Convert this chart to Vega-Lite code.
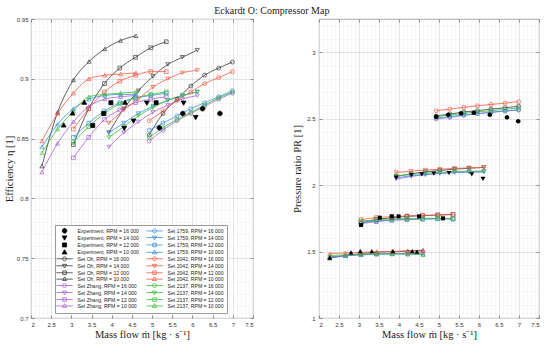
{
"$schema": "https://vega.github.io/schema/vega-lite/v6.json",
"padding": {"left": 3, "top": 5, "right": 0, "bottom": 0},
"title": {"text": "Eckardt O: Compressor Map", "font": "Liberation Serif", "fontSize": 10, "fontWeight": "normal", "color": "#222", "anchor": "middle", "offset": 0},
"spacing": 38,
"resolve": {"legend": {"stroke": "independent", "shape": "independent", "fill": "independent"}},
"datasets": {
"sim": [
{"s":"Set Oh, RPM = 10 000","m":2.27,"e":0.827,"p":1.45},{"s":"Set Oh, RPM = 10 000","m":2.66,"e":0.872,"p":1.47},{"s":"Set Oh, RPM = 10 000","m":3.05,"e":0.899,"p":1.485},{"s":"Set Oh, RPM = 10 000","m":3.44,"e":0.9145,"p":1.495},{"s":"Set Oh, RPM = 10 000","m":3.83,"e":0.925,"p":1.5},{"s":"Set Oh, RPM = 10 000","m":4.22,"e":0.932,"p":1.505},{"s":"Set Oh, RPM = 10 000","m":4.6,"e":0.936,"p":1.51},
{"s":"Set Oh, RPM = 12 000","m":3.05,"e":0.845,"p":1.715},{"s":"Set Oh, RPM = 12 000","m":3.43,"e":0.875,"p":1.74},{"s":"Set Oh, RPM = 12 000","m":3.82,"e":0.896,"p":1.755},{"s":"Set Oh, RPM = 12 000","m":4.2,"e":0.909,"p":1.765},{"s":"Set Oh, RPM = 12 000","m":4.59,"e":0.918,"p":1.77},{"s":"Set Oh, RPM = 12 000","m":4.97,"e":0.926,"p":1.775},{"s":"Set Oh, RPM = 12 000","m":5.35,"e":0.931,"p":1.78},
{"s":"Set Oh, RPM = 14 000","m":3.93,"e":0.855,"p":2.065},{"s":"Set Oh, RPM = 14 000","m":4.3,"e":0.875,"p":2.085},{"s":"Set Oh, RPM = 14 000","m":4.66,"e":0.89,"p":2.1},{"s":"Set Oh, RPM = 14 000","m":5.02,"e":0.902,"p":2.11},{"s":"Set Oh, RPM = 14 000","m":5.39,"e":0.912,"p":2.12},{"s":"Set Oh, RPM = 14 000","m":5.75,"e":0.918,"p":2.127},{"s":"Set Oh, RPM = 14 000","m":6.12,"e":0.924,"p":2.133},
{"s":"Set Oh, RPM = 16 000","m":4.93,"e":0.853,"p":2.52},{"s":"Set Oh, RPM = 16 000","m":5.27,"e":0.871,"p":2.535},{"s":"Set Oh, RPM = 16 000","m":5.62,"e":0.883,"p":2.55},{"s":"Set Oh, RPM = 16 000","m":5.96,"e":0.894,"p":2.56},{"s":"Set Oh, RPM = 16 000","m":6.3,"e":0.903,"p":2.572},{"s":"Set Oh, RPM = 16 000","m":6.65,"e":0.909,"p":2.582},{"s":"Set Oh, RPM = 16 000","m":6.99,"e":0.914,"p":2.593},
{"s":"Set Zhang, RPM = 10 000","m":2.27,"e":0.822,"p":1.46},{"s":"Set Zhang, RPM = 10 000","m":2.66,"e":0.846,"p":1.468},{"s":"Set Zhang, RPM = 10 000","m":3.05,"e":0.864,"p":1.476},{"s":"Set Zhang, RPM = 10 000","m":3.44,"e":0.877,"p":1.482},{"s":"Set Zhang, RPM = 10 000","m":3.83,"e":0.883,"p":1.486},{"s":"Set Zhang, RPM = 10 000","m":4.22,"e":0.885,"p":1.488},{"s":"Set Zhang, RPM = 10 000","m":4.6,"e":0.886,"p":1.49},
{"s":"Set Zhang, RPM = 12 000","m":3.05,"e":0.834,"p":1.71},{"s":"Set Zhang, RPM = 12 000","m":3.43,"e":0.851,"p":1.725},{"s":"Set Zhang, RPM = 12 000","m":3.82,"e":0.866,"p":1.735},{"s":"Set Zhang, RPM = 12 000","m":4.2,"e":0.874,"p":1.74},{"s":"Set Zhang, RPM = 12 000","m":4.59,"e":0.88,"p":1.745},{"s":"Set Zhang, RPM = 12 000","m":4.97,"e":0.883,"p":1.748},{"s":"Set Zhang, RPM = 12 000","m":5.35,"e":0.885,"p":1.75},
{"s":"Set Zhang, RPM = 14 000","m":3.93,"e":0.843,"p":2.045},{"s":"Set Zhang, RPM = 14 000","m":4.3,"e":0.855,"p":2.065},{"s":"Set Zhang, RPM = 14 000","m":4.66,"e":0.864,"p":2.078},{"s":"Set Zhang, RPM = 14 000","m":5.02,"e":0.872,"p":2.088},{"s":"Set Zhang, RPM = 14 000","m":5.39,"e":0.878,"p":2.095},{"s":"Set Zhang, RPM = 14 000","m":5.75,"e":0.883,"p":2.1},{"s":"Set Zhang, RPM = 14 000","m":6.12,"e":0.886,"p":2.1},
{"s":"Set Zhang, RPM = 16 000","m":4.93,"e":0.848,"p":2.497},{"s":"Set Zhang, RPM = 16 000","m":5.27,"e":0.857,"p":2.51},{"s":"Set Zhang, RPM = 16 000","m":5.62,"e":0.865,"p":2.525},{"s":"Set Zhang, RPM = 16 000","m":5.96,"e":0.871,"p":2.537},{"s":"Set Zhang, RPM = 16 000","m":6.3,"e":0.877,"p":2.548},{"s":"Set Zhang, RPM = 16 000","m":6.65,"e":0.883,"p":2.557},{"s":"Set Zhang, RPM = 16 000","m":6.99,"e":0.888,"p":2.565},
{"s":"Set 1759, RPM = 10 000","m":2.27,"e":0.843,"p":1.46},{"s":"Set 1759, RPM = 10 000","m":2.66,"e":0.862,"p":1.468},{"s":"Set 1759, RPM = 10 000","m":3.05,"e":0.875,"p":1.475},{"s":"Set 1759, RPM = 10 000","m":3.44,"e":0.883,"p":1.48},{"s":"Set 1759, RPM = 10 000","m":3.83,"e":0.886,"p":1.482},{"s":"Set 1759, RPM = 10 000","m":4.22,"e":0.887,"p":1.482},{"s":"Set 1759, RPM = 10 000","m":4.6,"e":0.887,"p":1.48},
{"s":"Set 1759, RPM = 12 000","m":3.05,"e":0.851,"p":1.72},{"s":"Set 1759, RPM = 12 000","m":3.43,"e":0.863,"p":1.73},{"s":"Set 1759, RPM = 12 000","m":3.82,"e":0.873,"p":1.738},{"s":"Set 1759, RPM = 12 000","m":4.2,"e":0.88,"p":1.742},{"s":"Set 1759, RPM = 12 000","m":4.59,"e":0.884,"p":1.745},{"s":"Set 1759, RPM = 12 000","m":4.97,"e":0.886,"p":1.746},{"s":"Set 1759, RPM = 12 000","m":5.35,"e":0.888,"p":1.745},
{"s":"Set 1759, RPM = 14 000","m":3.93,"e":0.855,"p":2.055},{"s":"Set 1759, RPM = 14 000","m":4.3,"e":0.863,"p":2.07},{"s":"Set 1759, RPM = 14 000","m":4.66,"e":0.871,"p":2.08},{"s":"Set 1759, RPM = 14 000","m":5.02,"e":0.877,"p":2.088},{"s":"Set 1759, RPM = 14 000","m":5.39,"e":0.882,"p":2.095},{"s":"Set 1759, RPM = 14 000","m":5.75,"e":0.886,"p":2.098},{"s":"Set 1759, RPM = 14 000","m":6.12,"e":0.889,"p":2.1},
{"s":"Set 1759, RPM = 16 000","m":4.93,"e":0.857,"p":2.505},{"s":"Set 1759, RPM = 16 000","m":5.27,"e":0.863,"p":2.515},{"s":"Set 1759, RPM = 16 000","m":5.62,"e":0.869,"p":2.528},{"s":"Set 1759, RPM = 16 000","m":5.96,"e":0.875,"p":2.538},{"s":"Set 1759, RPM = 16 000","m":6.3,"e":0.88,"p":2.548},{"s":"Set 1759, RPM = 16 000","m":6.65,"e":0.885,"p":2.558},{"s":"Set 1759, RPM = 16 000","m":6.99,"e":0.89,"p":2.567},
{"s":"Set 2042, RPM = 10 000","m":2.27,"e":0.848,"p":1.485},{"s":"Set 2042, RPM = 10 000","m":2.66,"e":0.871,"p":1.49},{"s":"Set 2042, RPM = 10 000","m":3.05,"e":0.888,"p":1.495},{"s":"Set 2042, RPM = 10 000","m":3.44,"e":0.9,"p":1.498},{"s":"Set 2042, RPM = 10 000","m":3.83,"e":0.903,"p":1.5},{"s":"Set 2042, RPM = 10 000","m":4.22,"e":0.904,"p":1.502},{"s":"Set 2042, RPM = 10 000","m":4.6,"e":0.905,"p":1.503},
{"s":"Set 2042, RPM = 12 000","m":3.05,"e":0.858,"p":1.74},{"s":"Set 2042, RPM = 12 000","m":3.43,"e":0.875,"p":1.755},{"s":"Set 2042, RPM = 12 000","m":3.82,"e":0.889,"p":1.762},{"s":"Set 2042, RPM = 12 000","m":4.2,"e":0.898,"p":1.768},{"s":"Set 2042, RPM = 12 000","m":4.59,"e":0.903,"p":1.772},{"s":"Set 2042, RPM = 12 000","m":4.97,"e":0.906,"p":1.775},{"s":"Set 2042, RPM = 12 000","m":5.35,"e":0.906,"p":1.778},
{"s":"Set 2042, RPM = 14 000","m":3.93,"e":0.863,"p":2.095},{"s":"Set 2042, RPM = 14 000","m":4.3,"e":0.874,"p":2.105},{"s":"Set 2042, RPM = 14 000","m":4.66,"e":0.883,"p":2.113},{"s":"Set 2042, RPM = 14 000","m":5.02,"e":0.893,"p":2.12},{"s":"Set 2042, RPM = 14 000","m":5.39,"e":0.9,"p":2.126},{"s":"Set 2042, RPM = 14 000","m":5.75,"e":0.905,"p":2.13},{"s":"Set 2042, RPM = 14 000","m":6.12,"e":0.907,"p":2.133},
{"s":"Set 2042, RPM = 16 000","m":4.93,"e":0.865,"p":2.56},{"s":"Set 2042, RPM = 16 000","m":5.27,"e":0.873,"p":2.572},{"s":"Set 2042, RPM = 16 000","m":5.62,"e":0.882,"p":2.585},{"s":"Set 2042, RPM = 16 000","m":5.96,"e":0.889,"p":2.597},{"s":"Set 2042, RPM = 16 000","m":6.3,"e":0.896,"p":2.607},{"s":"Set 2042, RPM = 16 000","m":6.65,"e":0.901,"p":2.617},{"s":"Set 2042, RPM = 16 000","m":6.99,"e":0.906,"p":2.628},
{"s":"Set 2137, RPM = 10 000","m":2.27,"e":0.838,"p":1.47},{"s":"Set 2137, RPM = 10 000","m":2.66,"e":0.858,"p":1.475},{"s":"Set 2137, RPM = 10 000","m":3.05,"e":0.873,"p":1.48},{"s":"Set 2137, RPM = 10 000","m":3.44,"e":0.885,"p":1.482},{"s":"Set 2137, RPM = 10 000","m":3.83,"e":0.887,"p":1.482},{"s":"Set 2137, RPM = 10 000","m":4.22,"e":0.888,"p":1.48},{"s":"Set 2137, RPM = 10 000","m":4.6,"e":0.889,"p":1.476},
{"s":"Set 2137, RPM = 12 000","m":3.05,"e":0.847,"p":1.73},{"s":"Set 2137, RPM = 12 000","m":3.43,"e":0.86,"p":1.738},{"s":"Set 2137, RPM = 12 000","m":3.82,"e":0.871,"p":1.745},{"s":"Set 2137, RPM = 12 000","m":4.2,"e":0.879,"p":1.748},{"s":"Set 2137, RPM = 12 000","m":4.59,"e":0.884,"p":1.75},{"s":"Set 2137, RPM = 12 000","m":4.97,"e":0.887,"p":1.75},{"s":"Set 2137, RPM = 12 000","m":5.35,"e":0.889,"p":1.745},
{"s":"Set 2137, RPM = 14 000","m":3.93,"e":0.851,"p":2.07},{"s":"Set 2137, RPM = 14 000","m":4.3,"e":0.86,"p":2.08},{"s":"Set 2137, RPM = 14 000","m":4.66,"e":0.869,"p":2.09},{"s":"Set 2137, RPM = 14 000","m":5.02,"e":0.876,"p":2.097},{"s":"Set 2137, RPM = 14 000","m":5.39,"e":0.882,"p":2.102},{"s":"Set 2137, RPM = 14 000","m":5.75,"e":0.886,"p":2.105},{"s":"Set 2137, RPM = 14 000","m":6.12,"e":0.889,"p":2.105},
{"s":"Set 2137, RPM = 16 000","m":4.93,"e":0.851,"p":2.515},{"s":"Set 2137, RPM = 16 000","m":5.27,"e":0.859,"p":2.527},{"s":"Set 2137, RPM = 16 000","m":5.62,"e":0.866,"p":2.54},{"s":"Set 2137, RPM = 16 000","m":5.96,"e":0.872,"p":2.55},{"s":"Set 2137, RPM = 16 000","m":6.3,"e":0.878,"p":2.56},{"s":"Set 2137, RPM = 16 000","m":6.65,"e":0.884,"p":2.57},{"s":"Set 2137, RPM = 16 000","m":6.99,"e":0.889,"p":2.58}
],
"expE": [
{"s":"Experiment, RPM = 16 000","m":5.18,"e":0.859},{"s":"Experiment, RPM = 16 000","m":5.76,"e":0.871},{"s":"Experiment, RPM = 16 000","m":6.25,"e":0.875},{"s":"Experiment, RPM = 16 000","m":6.68,"e":0.871},
{"s":"Experiment, RPM = 14 000","m":4.31,"e":0.859},{"s":"Experiment, RPM = 14 000","m":4.54,"e":0.865},{"s":"Experiment, RPM = 14 000","m":4.87,"e":0.88},{"s":"Experiment, RPM = 14 000","m":5.78,"e":0.88},{"s":"Experiment, RPM = 14 000","m":6.08,"e":0.868},
{"s":"Experiment, RPM = 12 000","m":3.53,"e":0.861},{"s":"Experiment, RPM = 12 000","m":3.8,"e":0.871},{"s":"Experiment, RPM = 12 000","m":3.98,"e":0.88},{"s":"Experiment, RPM = 12 000","m":5.1,"e":0.88},
{"s":"Experiment, RPM = 10 000","m":2.81,"e":0.861},{"s":"Experiment, RPM = 10 000","m":3.03,"e":0.871},{"s":"Experiment, RPM = 10 000","m":3.32,"e":0.88},{"s":"Experiment, RPM = 10 000","m":4.33,"e":0.88}
],
"expP": [
{"s":"Experiment, RPM = 16 000","m":4.93,"p":2.515},{"s":"Experiment, RPM = 16 000","m":5.23,"p":2.53},{"s":"Experiment, RPM = 16 000","m":5.55,"p":2.54},{"s":"Experiment, RPM = 16 000","m":5.87,"p":2.545},{"s":"Experiment, RPM = 16 000","m":6.27,"p":2.53},{"s":"Experiment, RPM = 16 000","m":6.7,"p":2.51},{"s":"Experiment, RPM = 16 000","m":6.98,"p":2.48},
{"s":"Experiment, RPM = 14 000","m":3.93,"p":2.06},{"s":"Experiment, RPM = 14 000","m":4.31,"p":2.08},{"s":"Experiment, RPM = 14 000","m":4.57,"p":2.085},{"s":"Experiment, RPM = 14 000","m":4.87,"p":2.09},{"s":"Experiment, RPM = 14 000","m":5.25,"p":2.095},{"s":"Experiment, RPM = 14 000","m":5.82,"p":2.085},{"s":"Experiment, RPM = 14 000","m":6.1,"p":2.05},
{"s":"Experiment, RPM = 12 000","m":3.05,"p":1.7},{"s":"Experiment, RPM = 12 000","m":3.52,"p":1.755},{"s":"Experiment, RPM = 12 000","m":3.82,"p":1.765},{"s":"Experiment, RPM = 12 000","m":3.99,"p":1.765},{"s":"Experiment, RPM = 12 000","m":4.5,"p":1.765},{"s":"Experiment, RPM = 12 000","m":5.1,"p":1.75},
{"s":"Experiment, RPM = 10 000","m":2.27,"p":1.45},{"s":"Experiment, RPM = 10 000","m":2.8,"p":1.49},{"s":"Experiment, RPM = 10 000","m":3.03,"p":1.5},{"s":"Experiment, RPM = 10 000","m":3.32,"p":1.5},{"s":"Experiment, RPM = 10 000","m":3.85,"p":1.5},{"s":"Experiment, RPM = 10 000","m":4.33,"p":1.5},{"s":"Experiment, RPM = 10 000","m":4.45,"p":1.495}
]
},
"hconcat": [
{
"width": 222, "height": 299,
"layer": [
{"data": {"name": "sim"}, "mark": {"type": "line", "strokeWidth": 0.8, "interpolate": "monotone"},
 "encoding": {
  "x": {"field": "m", "type": "quantitative", "scale": {"domain": [2, 7.5], "nice": false},
        "axis": {"orient": "top", "values": [2,2.1,2.2,2.3,2.4,2.5,2.6,2.7,2.8,2.9,3,3.1,3.2,3.3,3.4,3.5,3.6,3.7,3.8,3.9,4,4.1,4.2,4.3,4.4,4.5,4.6,4.7,4.8,4.9,5,5.1,5.2,5.3,5.4,5.5,5.6,5.7,5.8,5.9,6,6.1,6.2,6.3,6.4,6.5,6.6,6.7,6.8,6.9,7,7.1,7.2,7.3,7.4,7.5], "labels": false, "ticks": true, "tickSize": -3, "tickColor": "#555", "tickWidth": 0.6, "tickOpacity": {"condition": {"test": "abs(datum.value*2 - round(datum.value*2)) < 0.01", "value": 1}, "value": 0}, "domain": false, "grid": true, "gridColor": "#efefef", "title": null}},
  "y": {"field": "e", "type": "quantitative", "scale": {"domain": [0.7, 0.95], "nice": false, "zero": false},
        "axis": {"orient": "right", "values": [0.7,0.71,0.72,0.73,0.74,0.75,0.76,0.77,0.78,0.79,0.8,0.81,0.82,0.83,0.84,0.85,0.86,0.87,0.88,0.89,0.9,0.91,0.92,0.93,0.94,0.95], "labels": false, "ticks": true, "tickSize": -3, "tickColor": "#555", "tickWidth": 0.6, "tickOpacity": {"condition": {"test": "abs(datum.value*20 - round(datum.value*20)) < 0.01", "value": 1}, "value": 0}, "domain": false, "grid": true, "gridColor": "#efefef", "title": null}},
  "color": {"field": "s", "type": "nominal", "legend": null,
   "scale": {"range": ["#3d8fde","#3d8fde","#3d8fde","#3d8fde","#f05a45","#f05a45","#f05a45","#f05a45","#38c038","#38c038","#38c038","#38c038","#3a3a3a","#3a3a3a","#3a3a3a","#3a3a3a","#a862d0","#a862d0","#a862d0","#a862d0"]}}
 }},
{"data": {"name": "sim"}, "transform": [{"filter": "indexof(datum.s,'16 000')>=0"}],
 "mark": {"type": "point", "shape": "circle", "filled": false, "size": 16, "strokeWidth": 0.7, "opacity": 1},
 "encoding": {
  "x": {"field": "m", "type": "quantitative", "axis": {"orient": "bottom", "values": [2,2.5,3,3.5,4,4.5,5,5.5,6,6.5,7,7.5], "format": ".1~f", "grid": true, "ticks": true, "tickSize": -3, "tickColor": "#555", "tickWidth": 0.6, "title": "Mass flow ṁ [kg · s⁻¹]", "labelPadding": 6, "titlePadding": 2}},
  "y": {"field": "e", "type": "quantitative", "axis": {"orient": "left", "values": [0.7,0.75,0.8,0.85,0.9,0.95], "format": ".2~f", "grid": true, "ticks": true, "tickSize": -3, "tickColor": "#555", "tickWidth": 0.6, "title": "Efficiency η [1]", "labelPadding": 6, "titlePadding": 2}},
  "color": {"field": "s", "type": "nominal", "legend": null}
 }},
{"data": {"name": "sim"}, "transform": [{"filter": "indexof(datum.s,'14 000')>=0"}],
 "mark": {"type": "point", "shape": "triangle-down", "filled": false, "size": 16, "strokeWidth": 0.7, "opacity": 1},
 "encoding": {
  "x": {"field": "m", "type": "quantitative", "axis": null},
  "y": {"field": "e", "type": "quantitative", "axis": null},
  "color": {"field": "s", "type": "nominal", "legend": null}
 }},
{"data": {"name": "sim"}, "transform": [{"filter": "indexof(datum.s,'12 000')>=0"}],
 "mark": {"type": "point", "shape": "square", "filled": false, "size": 14, "strokeWidth": 0.7, "opacity": 1},
 "encoding": {
  "x": {"field": "m", "type": "quantitative", "axis": null},
  "y": {"field": "e", "type": "quantitative", "axis": null},
  "color": {"field": "s", "type": "nominal", "legend": null}
 }},
{"data": {"name": "sim"}, "transform": [{"filter": "indexof(datum.s,'10 000')>=0"}],
 "mark": {"type": "point", "shape": "triangle-up", "filled": false, "size": 16, "strokeWidth": 0.7, "opacity": 1},
 "encoding": {
  "x": {"field": "m", "type": "quantitative", "axis": null},
  "y": {"field": "e", "type": "quantitative", "axis": null},
  "color": {"field": "s", "type": "nominal", "legend": null}
 }},
{"data": {"name": "expE"}, "mark": {"type": "point", "size": 16, "strokeWidth": 0.8, "opacity": 1},
 "encoding": {
  "x": {"field": "m", "type": "quantitative", "axis": null},
  "y": {"field": "e", "type": "quantitative", "axis": null},
  "stroke": {"field": "s", "type": "nominal",
   "legend": {"orient": "none", "legendX": 24, "legendY": 206, "columns": 2, "title": null, "fillColor": "white", "strokeColor": "#9a9a9a", "padding": 3, "labelFontSize": 5.1, "labelColor": "#222", "symbolSize": 16, "symbolStrokeWidth": 0.8, "symbolOpacity": 1, "symbolOffset": 4, "labelOffset": 10.5, "rowPadding": -1.6, "columnPadding": 5},
   "scale": {"domain": ["Experiment, RPM = 16 000","Experiment, RPM = 14 000","Experiment, RPM = 12 000","Experiment, RPM = 10 000","Set Oh, RPM = 16 000","Set Oh, RPM = 14 000","Set Oh, RPM = 12 000","Set Oh, RPM = 10 000","Set Zhang, RPM = 16 000","Set Zhang, RPM = 14 000","Set Zhang, RPM = 12 000","Set Zhang, RPM = 10 000","Set 1759, RPM = 16 000","Set 1759, RPM = 14 000","Set 1759, RPM = 12 000","Set 1759, RPM = 10 000","Set 2042, RPM = 16 000","Set 2042, RPM = 14 000","Set 2042, RPM = 12 000","Set 2042, RPM = 10 000","Set 2137, RPM = 16 000","Set 2137, RPM = 14 000","Set 2137, RPM = 12 000","Set 2137, RPM = 10 000"],
             "range": ["#000000","#000000","#000000","#000000","#3a3a3a","#3a3a3a","#3a3a3a","#3a3a3a","#a862d0","#a862d0","#a862d0","#a862d0","#3d8fde","#3d8fde","#3d8fde","#3d8fde","#f05a45","#f05a45","#f05a45","#f05a45","#38c038","#38c038","#38c038","#38c038"]}},
  "fill": {"field": "s", "type": "nominal",
   "legend": {"orient": "none", "legendX": 24, "legendY": 206, "columns": 2, "title": null, "fillColor": "white", "strokeColor": "#9a9a9a", "padding": 3, "labelFontSize": 5.1, "labelColor": "#222", "symbolSize": 16, "symbolStrokeWidth": 0.8, "symbolOpacity": 1, "symbolOffset": 4, "labelOffset": 10.5, "rowPadding": -1.6, "columnPadding": 5},
   "scale": {"domain": ["Experiment, RPM = 16 000","Experiment, RPM = 14 000","Experiment, RPM = 12 000","Experiment, RPM = 10 000","Set Oh, RPM = 16 000","Set Oh, RPM = 14 000","Set Oh, RPM = 12 000","Set Oh, RPM = 10 000","Set Zhang, RPM = 16 000","Set Zhang, RPM = 14 000","Set Zhang, RPM = 12 000","Set Zhang, RPM = 10 000","Set 1759, RPM = 16 000","Set 1759, RPM = 14 000","Set 1759, RPM = 12 000","Set 1759, RPM = 10 000","Set 2042, RPM = 16 000","Set 2042, RPM = 14 000","Set 2042, RPM = 12 000","Set 2042, RPM = 10 000","Set 2137, RPM = 16 000","Set 2137, RPM = 14 000","Set 2137, RPM = 12 000","Set 2137, RPM = 10 000"],
             "range": ["black","black","black","black","transparent","transparent","transparent","transparent","transparent","transparent","transparent","transparent","transparent","transparent","transparent","transparent","transparent","transparent","transparent","transparent","transparent","transparent","transparent","transparent"]}},
  "shape": {"field": "s", "type": "nominal",
   "legend": {"orient": "none", "legendX": 24, "legendY": 206, "columns": 2, "title": null, "fillColor": "white", "strokeColor": "#9a9a9a", "padding": 3, "labelFontSize": 5.1, "labelColor": "#222", "symbolSize": 16, "symbolStrokeWidth": 0.8, "symbolOpacity": 1, "symbolOffset": 4, "labelOffset": 10.5, "rowPadding": -1.6, "columnPadding": 5},
   "scale": {"domain": ["Experiment, RPM = 16 000","Experiment, RPM = 14 000","Experiment, RPM = 12 000","Experiment, RPM = 10 000","Set Oh, RPM = 16 000","Set Oh, RPM = 14 000","Set Oh, RPM = 12 000","Set Oh, RPM = 10 000","Set Zhang, RPM = 16 000","Set Zhang, RPM = 14 000","Set Zhang, RPM = 12 000","Set Zhang, RPM = 10 000","Set 1759, RPM = 16 000","Set 1759, RPM = 14 000","Set 1759, RPM = 12 000","Set 1759, RPM = 10 000","Set 2042, RPM = 16 000","Set 2042, RPM = 14 000","Set 2042, RPM = 12 000","Set 2042, RPM = 10 000","Set 2137, RPM = 16 000","Set 2137, RPM = 14 000","Set 2137, RPM = 12 000","Set 2137, RPM = 10 000"],
             "range": ["M1.15,0A1.15,1.15,0,1,1,-1.15,0A1.15,1.15,0,1,1,1.15,0Z","M0,1.3L1.2,-0.8L-1.2,-0.8Z","M-1,-1H1V1H-1Z","M0,-1.3L1.2,0.8L-1.2,0.8Z",
                       "M-4.1,0H4.1M1,0A1,1,0,1,1,-1,0A1,1,0,1,1,1,0Z","M-4.1,0H4.1M0,1.15L1.05,-0.7L-1.05,-0.7Z","M-4.1,0H4.1M-0.9,-0.9H0.9V0.9H-0.9Z","M-4.1,0H4.1M0,-1.15L1.05,0.7L-1.05,0.7Z",
                       "M-4.1,0H4.1M1,0A1,1,0,1,1,-1,0A1,1,0,1,1,1,0Z","M-4.1,0H4.1M0,1.15L1.05,-0.7L-1.05,-0.7Z","M-4.1,0H4.1M-0.9,-0.9H0.9V0.9H-0.9Z","M-4.1,0H4.1M0,-1.15L1.05,0.7L-1.05,0.7Z",
                       "M-4.1,0H4.1M1,0A1,1,0,1,1,-1,0A1,1,0,1,1,1,0Z","M-4.1,0H4.1M0,1.15L1.05,-0.7L-1.05,-0.7Z","M-4.1,0H4.1M-0.9,-0.9H0.9V0.9H-0.9Z","M-4.1,0H4.1M0,-1.15L1.05,0.7L-1.05,0.7Z",
                       "M-4.1,0H4.1M1,0A1,1,0,1,1,-1,0A1,1,0,1,1,1,0Z","M-4.1,0H4.1M0,1.15L1.05,-0.7L-1.05,-0.7Z","M-4.1,0H4.1M-0.9,-0.9H0.9V0.9H-0.9Z","M-4.1,0H4.1M0,-1.15L1.05,0.7L-1.05,0.7Z",
                       "M-4.1,0H4.1M1,0A1,1,0,1,1,-1,0A1,1,0,1,1,1,0Z","M-4.1,0H4.1M0,1.15L1.05,-0.7L-1.05,-0.7Z","M-4.1,0H4.1M-0.9,-0.9H0.9V0.9H-0.9Z","M-4.1,0H4.1M0,-1.15L1.05,0.7L-1.05,0.7Z"]}}
 }}
]
},
{
"width": 220, "height": 299,
"layer": [
{"data": {"name": "sim"}, "mark": {"type": "line", "strokeWidth": 0.8, "interpolate": "monotone"},
 "encoding": {
  "x": {"field": "m", "type": "quantitative", "scale": {"domain": [2, 7.5], "nice": false},
        "axis": {"orient": "top", "values": [2,2.1,2.2,2.3,2.4,2.5,2.6,2.7,2.8,2.9,3,3.1,3.2,3.3,3.4,3.5,3.6,3.7,3.8,3.9,4,4.1,4.2,4.3,4.4,4.5,4.6,4.7,4.8,4.9,5,5.1,5.2,5.3,5.4,5.5,5.6,5.7,5.8,5.9,6,6.1,6.2,6.3,6.4,6.5,6.6,6.7,6.8,6.9,7,7.1,7.2,7.3,7.4,7.5], "labels": false, "ticks": true, "tickSize": -3, "tickColor": "#555", "tickWidth": 0.6, "tickOpacity": {"condition": {"test": "abs(datum.value*2 - round(datum.value*2)) < 0.01", "value": 1}, "value": 0}, "domain": false, "grid": true, "gridColor": "#efefef", "title": null}},
  "y": {"field": "p", "type": "quantitative", "scale": {"domain": [1, 3.25], "nice": false, "zero": false},
        "axis": {"orient": "right", "values": [1,1.1,1.2,1.3,1.4,1.5,1.6,1.7,1.8,1.9,2,2.1,2.2,2.3,2.4,2.5,2.6,2.7,2.8,2.9,3,3.1,3.2], "labels": false, "ticks": true, "tickSize": -3, "tickColor": "#555", "tickWidth": 0.6, "tickOpacity": {"condition": {"test": "abs(datum.value*2 - round(datum.value*2)) < 0.01", "value": 1}, "value": 0}, "domain": false, "grid": true, "gridColor": "#efefef", "title": null}},
  "color": {"field": "s", "type": "nominal", "legend": null}
 }},
{"data": {"name": "sim"}, "transform": [{"filter": "indexof(datum.s,'16 000')>=0"}],
 "mark": {"type": "point", "shape": "circle", "filled": false, "size": 16, "strokeWidth": 0.7, "opacity": 1},
 "encoding": {
  "x": {"field": "m", "type": "quantitative", "axis": {"orient": "bottom", "values": [2,2.5,3,3.5,4,4.5,5,5.5,6,6.5,7,7.5], "format": ".1~f", "grid": true, "ticks": true, "tickSize": -3, "tickColor": "#555", "tickWidth": 0.6, "title": "Mass flow ṁ [kg · s⁻¹]", "labelPadding": 6, "titlePadding": 2}},
  "y": {"field": "p", "type": "quantitative", "axis": {"orient": "left", "values": [1,1.5,2,2.5,3], "format": ".1~f", "grid": true, "ticks": true, "tickSize": -3, "tickColor": "#555", "tickWidth": 0.6, "title": "Pressure ratio PR [1]", "labelPadding": 7, "titlePadding": 4}},
  "color": {"field": "s", "type": "nominal", "legend": null}
 }},
{"data": {"name": "sim"}, "transform": [{"filter": "indexof(datum.s,'14 000')>=0"}],
 "mark": {"type": "point", "shape": "triangle-down", "filled": false, "size": 16, "strokeWidth": 0.7, "opacity": 1},
 "encoding": {
  "x": {"field": "m", "type": "quantitative", "axis": null},
  "y": {"field": "p", "type": "quantitative", "axis": null},
  "color": {"field": "s", "type": "nominal", "legend": null}
 }},
{"data": {"name": "sim"}, "transform": [{"filter": "indexof(datum.s,'12 000')>=0"}],
 "mark": {"type": "point", "shape": "square", "filled": false, "size": 14, "strokeWidth": 0.7, "opacity": 1},
 "encoding": {
  "x": {"field": "m", "type": "quantitative", "axis": null},
  "y": {"field": "p", "type": "quantitative", "axis": null},
  "color": {"field": "s", "type": "nominal", "legend": null}
 }},
{"data": {"name": "sim"}, "transform": [{"filter": "indexof(datum.s,'10 000')>=0"}],
 "mark": {"type": "point", "shape": "triangle-up", "filled": false, "size": 16, "strokeWidth": 0.7, "opacity": 1},
 "encoding": {
  "x": {"field": "m", "type": "quantitative", "axis": null},
  "y": {"field": "p", "type": "quantitative", "axis": null},
  "color": {"field": "s", "type": "nominal", "legend": null}
 }},
{"data": {"name": "expP"}, "mark": {"type": "point", "size": 16, "strokeWidth": 0.8, "opacity": 1, "filled": true, "color": "black"},
 "encoding": {
  "x": {"field": "m", "type": "quantitative", "axis": null},
  "y": {"field": "p", "type": "quantitative", "axis": null},
  "shape": {"field": "s", "type": "nominal", "legend": null}
 }}
]
}
],
"config": {
 "view": {"stroke": "#8a8a8a", "strokeWidth": 0.8},
 "axis": {"labelFont": "Liberation Sans", "labelFontSize": 6, "labelColor": "#333", "titleFont": "Liberation Serif", "titleFontSize": 10.5, "titleFontWeight": "normal", "titleColor": "#222", "domain": false, "ticks": false, "gridColor": "#d9d9d9", "gridWidth": 0.6},
 "legend": {"labelFont": "Liberation Sans"}
}
}
